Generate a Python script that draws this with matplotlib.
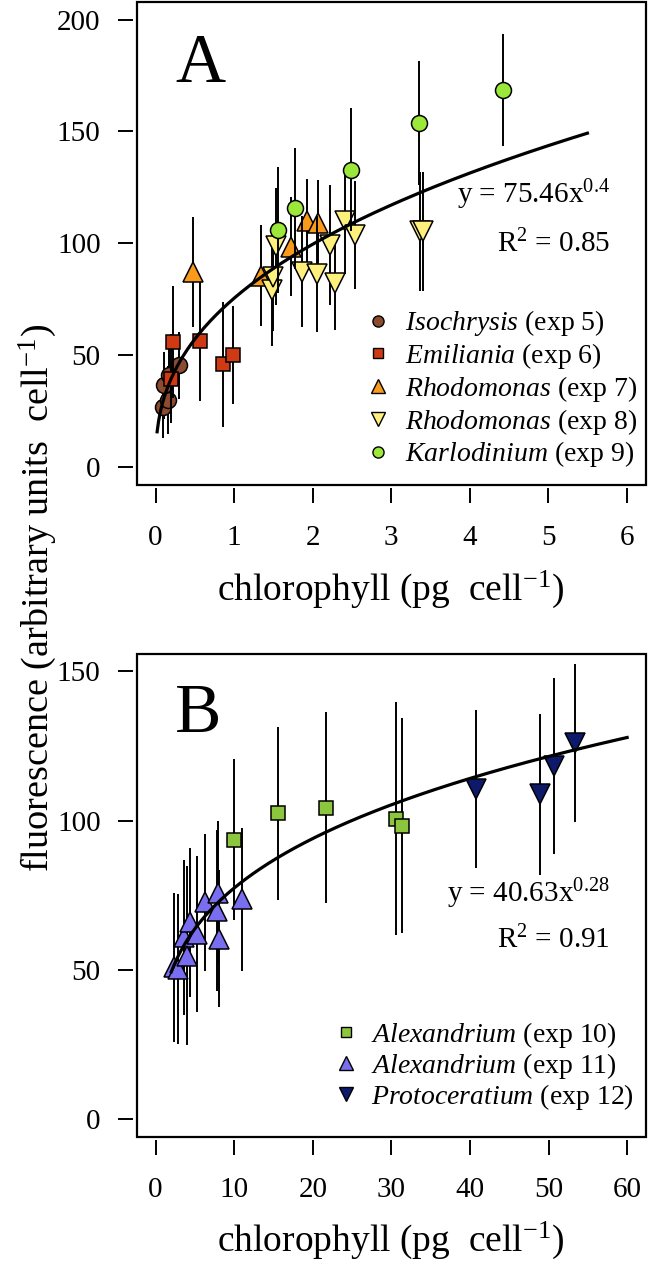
import numpy as np
import matplotlib
matplotlib.use('Agg')
import matplotlib.pyplot as plt
from matplotlib.lines import Line2D
from matplotlib.patches import Rectangle

plt.rcParams['font.family'] = ['Liberation Serif', 'DejaVu Serif']
plt.rcParams['mathtext.fontset'] = 'custom'
plt.rcParams['mathtext.rm'] = 'Liberation Serif'
plt.rcParams['mathtext.it'] = 'Liberation Serif:italic'
plt.rcParams['mathtext.bf'] = 'Liberation Serif:bold'

# ---------------- Panel A data ----------------
iso_x = [0.09, 0.16, 0.11, 0.17, 0.30]
iso_y = [27.0, 30.0, 36.5, 41.0, 45.5]
iso_e = [14, 15, 15, 14, 15]

emi_x = [0.20, 0.22, 0.56, 0.86, 0.99]
emi_y = [39.5, 55.8, 56.4, 45.9, 50.1]
emi_e = [20, 25, 27, 28, 22]

rh7_x = [0.48, 1.34, 1.73, 1.93, 2.07]
rh7_y = [87.4, 85.5, 98.5, 109.8, 109.2]
rh7_e = [24.6, 22.6, 22, 19, 19]

rh8_x = [1.48, 1.50, 1.54, 1.86, 2.05, 2.22, 2.28, 2.41, 2.54, 3.37, 3.41]
rh8_y = [79.2, 84.8, 98.6, 87.4, 86.3, 99.3, 82.2, 110.2, 103.8, 105.3, 105.3]
rh8_e = [25, 24, 26, 25, 26, 27, 21, 24, 24, 26.5, 26.5]

kar_x = [1.56, 1.78, 2.49, 3.35, 4.42]
kar_y = [106.0, 115.7, 132.9, 153.8, 168.4]
kar_e = [28, 27, 27.6, 27.5, 25]

fitA_a, fitA_b, fitA_range = 75.46, 0.4, (0.02, 5.5)

# ---------------- Panel B data ----------------
a10_x = [10.0, 15.6, 21.7, 30.6, 31.35]
a10_y = [93.6, 102.5, 104.4, 100.7, 98.3]
a10_e = [27, 29, 32, 39, 36]

a11_x = [2.4, 2.8, 3.6, 4.0, 4.4, 5.3, 6.3, 7.8, 8.0, 8.1, 11.0]
a11_y = [50.9, 50.3, 60.9, 54.8, 65.9, 62.0, 72.6, 69.8, 75.9, 60.4, 73.7]
a11_e = [25, 25, 26, 30, 25, 26, 23, 27, 24, 23, 24]

pro_x = [40.8, 48.9, 50.7, 53.4]
pro_y = [110.5, 108.8, 118.3, 126.1]
pro_e = [26.5, 27, 29.5, 26.5]

fitB_a, fitB_b, fitB_range = 40.63, 0.28, (2.0, 60.0)

xticksA = [0, 1, 2, 3, 4, 5, 6]
yticksA = [0, 50, 100, 150, 200]
xticksB = [0, 10, 20, 30, 40, 50, 60]
yticksB = [0, 50, 100, 150]

fig = plt.figure(figsize=(6.5, 12.64), dpi=100)
H = 1264.0
W = 650.0
axA = fig.add_axes([136.7 / W, 1 - 485 / H, (645.5 - 136.7) / W, (485 - 1.7) / H])
axB = fig.add_axes([136.7 / W, 1 - 1137 / H, (646 - 136.7) / W, (1137 - 653.5) / H])


def style(ax, xt, yt):
    xr = xt[-1] - xt[0]
    yr = yt[-1] - yt[0]
    ax.set_xlim(xt[0] - 0.04 * xr, xt[-1] + 0.04 * xr)
    ax.set_ylim(yt[0] - 0.04 * yr, yt[-1] + 0.04 * yr)
    ax.set_xticks(xt)
    ax.set_yticks(yt)
    for s in ax.spines.values():
        s.set_visible(False)
    ax.spines['left'].set_position(('outward', 2.5))
    ax.spines['bottom'].set_position(('outward', 2.5))
    ax.add_patch(Rectangle((0, 0), 1, 1, transform=ax.transAxes, fill=False,
                           lw=1.6, ec='black', clip_on=False, zorder=20))
    ax.tick_params(direction='out', length=10.5, width=1.4, labelsize=21)
    ax.tick_params(axis='x', pad=16)
    ax.tick_params(axis='y', pad=13)


def series(ax, x, y, e, marker, color, ms, z):
    ax.errorbar(x, y, yerr=e, fmt='none', ecolor='black', elinewidth=1.4,
                capsize=0, zorder=z)
    ax.plot(x, y, linestyle='none', marker=marker, markerfacecolor=color,
            markeredgecolor='black', markeredgewidth=1.1, markersize=ms, zorder=z + 0.5)


style(axA, xticksA, yticksA)
style(axB, xticksB, yticksB)

# Panel A
cA = ['#8c4a2f', '#cf3a12', '#f99a1c', '#fff07e', '#9be83a']
series(axA, iso_x, iso_y, iso_e, 'o', cA[0], 11.5, 2)
series(axA, emi_x, emi_y, emi_e, 's', cA[1], 10, 3)
series(axA, rh7_x, rh7_y, rh7_e, '^', cA[2], 14, 4)
series(axA, rh8_x, rh8_y, rh8_e, 'v', cA[3], 14, 5)
series(axA, kar_x, kar_y, kar_e, 'o', cA[4], 11.5, 6)
xa = np.linspace(fitA_range[0], fitA_range[1], 300)
axA.plot(xa, fitA_a * xa ** fitA_b, color='black', lw=2.3, zorder=10)

hA = [Line2D([], [], ls='none', marker='o', mfc=cA[0], mec='black', ms=8, mew=1.0),
      Line2D([], [], ls='none', marker='s', mfc=cA[1], mec='black', ms=7.5, mew=1.0),
      Line2D([], [], ls='none', marker='^', mfc=cA[2], mec='black', ms=9.5, mew=1.0),
      Line2D([], [], ls='none', marker='v', mfc=cA[3], mec='black', ms=9.5, mew=1.0),
      Line2D([], [], ls='none', marker='o', mfc=cA[4], mec='black', ms=8, mew=1.0)]
lA = [r'$\it{Isochrysis}$ (exp 5)', r'$\it{Emiliania}$ (exp 6)',
      r'$\it{Rhodomonas}$ (exp 7)', r'$\it{Rhodomonas}$ (exp 8)',
      r'$\it{Karlodinium}$ (exp 9)']
axA.legend(hA, lA, loc='center left', bbox_to_anchor=(0.4472, 0.199), frameon=False,
           fontsize=20, handlelength=1.0, handletextpad=0.47, labelspacing=0.1,
           borderpad=0, borderaxespad=0)

axA.text(0.931, 0.5835, r'y = 75.46x$^{0.4}$', transform=axA.transAxes, fontsize=21,
         ha='right', va='baseline')
axA.text(0.931, 0.482, r'R$^{2}$ = 0.85', transform=axA.transAxes, fontsize=21,
         ha='right', va='baseline')
axA.text(0.0753, 0.834, 'A', transform=axA.transAxes, fontsize=50, ha='left', va='baseline')

# Panel B
cB = ['#8cc63f', '#7a6ef0', '#0d1a6b']
series(axB, a10_x, a10_y, a10_e, 's', cB[0], 10, 2)
series(axB, a11_x, a11_y, a11_e, '^', cB[1], 14, 3)
series(axB, pro_x, pro_y, pro_e, 'v', cB[2], 14, 4)
xb = np.linspace(fitB_range[0], fitB_range[1], 300)
axB.plot(xb, fitB_a * xb ** fitB_b, color='black', lw=2.3, zorder=10)

hB = [Line2D([], [], ls='none', marker='s', mfc=cB[0], mec='black', ms=7.5, mew=1.0),
      Line2D([], [], ls='none', marker='^', mfc=cB[1], mec='black', ms=9.5, mew=1.0),
      Line2D([], [], ls='none', marker='v', mfc=cB[2], mec='black', ms=9.5, mew=1.0)]
lB = [r'$\it{Alexandrium}$ (exp 10)', r'$\it{Alexandrium}$ (exp 11)',
      r'$\it{Protoceratium}$ (exp 12)']
axB.legend(hB, lB, loc='center left', bbox_to_anchor=(0.383, 0.147), frameon=False,
           fontsize=20, handlelength=1.0, handletextpad=0.42, labelspacing=0.04,
           borderpad=0, borderaxespad=0)

axB.text(0.929, 0.486, r'y = 40.63x$^{0.28}$', transform=axB.transAxes, fontsize=21,
         ha='right', va='baseline')
axB.text(0.929, 0.391, r'R$^{2}$ = 0.91', transform=axB.transAxes, fontsize=21,
         ha='right', va='baseline')
axB.text(0.0752, 0.8376, 'B', transform=axB.transAxes, fontsize=50, ha='left', va='baseline')

# axis labels
fig.text(391 / W, 1 - 600 / H, r'chlorophyll (pg  cell$^{-1}$)', fontsize=27,
         ha='center', va='baseline')
fig.text(391 / W, 1 - 1251 / H, r'chlorophyll (pg  cell$^{-1}$)', fontsize=27,
         ha='center', va='baseline')
fig.text(38 / W, 1 - 598 / H, r'fluorescence (arbitrary units  cell$^{-1}$)', fontsize=27.5,
         ha='center', va='center', rotation=90)

fig.savefig('out.png', dpi=100)
